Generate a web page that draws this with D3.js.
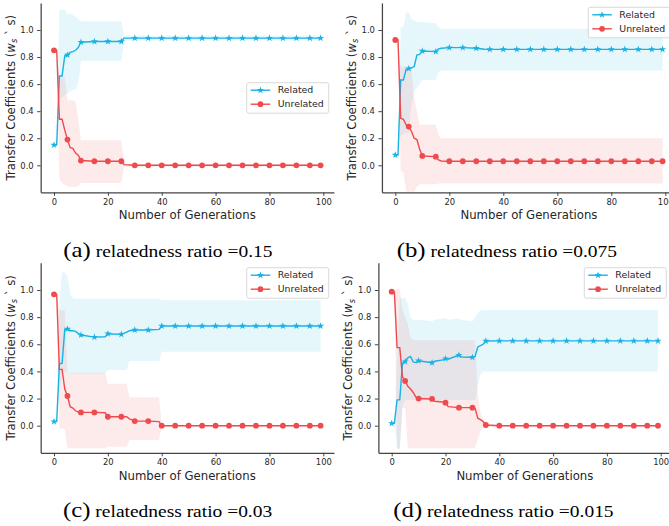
<!DOCTYPE html>
<html><head><meta charset="utf-8">
<script src="https://cdn.jsdelivr.net/npm/d3@7"></script>
<style>body{margin:0;background:#fff}svg{display:block}</style>
</head><body>
<svg id="c" width="669" height="526"></svg>
<script>
// ---------- data ----------
const xTicks = [0, 20, 40, 60, 80, 100];
const yTicks = [0.0, 0.2, 0.4, 0.6, 0.8, 1.0];
const seriesNames = ["Related", "Unrelated"];
const captionLetters = ["(a)", "(b)", "(c)", "(d)"];
const captionTexts = [" relatedness ratio =0.15", " relatedness ratio =0.075", " relatedness ratio =0.03", " relatedness ratio =0.015"];

// (a) relatedness ratio = 0.15
const genA    = [0,1,2,3,4,5,6,7,8,9,10,15,20,25,26,30,35,40,45,50,55,60,65,70,75,80,85,90,95,99];
const relA    = [0.15,0.15,0.66,0.66,0.81,0.815,0.835,0.84,0.85,0.87,0.91,0.915,0.915,0.915,0.94,0.94,0.94,0.94,0.94,0.94,0.94,0.94,0.94,0.94,0.94,0.94,0.94,0.94,0.94,0.94];
const relHiA  = [0.15,0.15,1.15,1.15,1.15,1.12,1.12,1.11,1.10,1.08,1.065,1.065,1.065,1.065,0.96,0.96,0.96,0.96,0.96,0.96,0.96,0.96,0.96,0.96,0.96,0.96,0.96,0.96,0.96,0.96];
const relLoA  = [0.15,0.15,0.50,0.50,0.52,0.53,0.55,0.555,0.56,0.60,0.77,0.77,0.77,0.77,0.925,0.925,0.925,0.925,0.925,0.925,0.925,0.925,0.925,0.925,0.925,0.925,0.925,0.925,0.925,0.925];
const unrA    = [0.85,0.85,0.34,0.34,0.26,0.19,0.13,0.125,0.09,0.075,0.035,0.03,0.03,0.03,0.005,0,0,0,0,0,0,0,0,0,0,0,0,0,0,0];
const unrHiA  = [0.85,0.85,0.65,0.65,0.65,0.48,0.48,0.48,0.47,0.35,0.185,0.185,0.185,0.185,0.01,0.01,0.01,0.01,0.01,0.01,0.01,0.01,0.01,0.01,0.01,0.01,0.01,0.01,0.01,0.01];
const unrLoA  = [0.85,0.85,-0.10,-0.13,-0.145,-0.155,-0.158,-0.158,-0.158,-0.155,-0.13,-0.13,-0.13,-0.13,-0.01,-0.01,-0.01,-0.01,-0.01,-0.01,-0.01,-0.01,-0.01,-0.01,-0.01,-0.01,-0.01,-0.01,-0.01,-0.01];

// (b) relatedness ratio = 0.075
const genB    = [0,1,2,3,4,5,6,7,8,9,10,15,16,17,20,25,30,33,35,40,45,50,55,60,65,70,75,80,85,90,95,99];
const relB    = [0.076,0.076,0.63,0.63,0.71,0.715,0.72,0.73,0.815,0.82,0.845,0.84,0.86,0.865,0.87,0.87,0.865,0.858,0.857,0.857,0.857,0.857,0.857,0.857,0.857,0.857,0.857,0.857,0.857,0.857,0.857,0.857];
const relHiB  = [0.076,0.076,1.02,1.02,1.13,1.13,1.08,1.07,1.06,1.06,1.06,1.05,1.02,1.01,1.01,1.01,1.01,1.01,1.01,1.01,1.01,1.01,1.01,1.01,1.01,1.01,1.01,1.01,1.01,1.01,1.01,1.01];
const relLoB  = [0.076,0.076,0.22,0.23,0.24,0.24,0.45,0.55,0.57,0.60,0.63,0.63,0.69,0.70,0.70,0.70,0.70,0.70,0.70,0.70,0.70,0.70,0.70,0.70,0.70,0.70,0.70,0.70,0.70,0.70,0.70,0.70];
const unrB    = [0.926,0.926,0.347,0.34,0.30,0.286,0.25,0.20,0.19,0.12,0.069,0.064,0.04,0.032,0.03,0.03,0.03,0.03,0.03,0.03,0.03,0.03,0.03,0.03,0.03,0.03,0.03,0.03,0.03,0.03,0.03,0.03];
const unrHiB  = [0.926,0.926,0.73,0.73,0.73,0.73,0.70,0.50,0.40,0.30,0.30,0.30,0.22,0.20,0.20,0.20,0.20,0.20,0.20,0.20,0.20,0.20,0.20,0.20,0.20,0.20,0.20,0.20,0.20,0.20,0.20,0.20];
const unrLoB  = [0.926,0.926,-0.04,-0.05,-0.19,-0.195,-0.195,-0.195,-0.16,-0.14,-0.14,-0.14,-0.135,-0.135,-0.135,-0.135,-0.135,-0.135,-0.135,-0.135,-0.135,-0.135,-0.135,-0.135,-0.135,-0.135,-0.135,-0.135,-0.135,-0.135,-0.135,-0.135];

// (c) relatedness ratio = 0.03
const genC    = [0,1,2,3,4,5,6,7,8,9,10,15,19,20,25,27,28,30,35,39,40,45,50,55,60,65,70,75,80,85,90,95,99];
const relC    = [0.03,0.03,0.455,0.46,0.71,0.713,0.70,0.70,0.695,0.68,0.668,0.653,0.655,0.678,0.673,0.69,0.70,0.705,0.705,0.71,0.735,0.735,0.735,0.735,0.735,0.735,0.735,0.735,0.735,0.735,0.735,0.735,0.735];
const relHiC  = [0.03,0.03,0.90,1.13,1.13,1.10,0.98,0.94,0.935,0.935,0.935,0.935,0.935,0.935,0.935,0.935,0.935,0.935,0.935,0.935,0.925,0.925,0.925,0.925,0.925,0.925,0.925,0.925,0.925,0.925,0.925,0.925,0.925];
const relLoC  = [0.03,0.03,0.20,0.40,0.40,0.39,0.385,0.385,0.385,0.385,0.385,0.385,0.385,0.41,0.41,0.41,0.477,0.477,0.477,0.477,0.545,0.545,0.545,0.545,0.545,0.545,0.545,0.545,0.545,0.545,0.545,0.545,0.545];
const unrC    = [0.968,0.968,0.415,0.415,0.27,0.219,0.14,0.13,0.11,0.10,0.098,0.098,0.095,0.066,0.066,0.066,0.05,0.034,0.034,0.03,0,0,0,0,0,0,0,0,0,0,0,0,0];
const unrHiC  = [0.968,0.968,0.85,0.85,0.85,0.39,0.39,0.39,0.39,0.39,0.39,0.39,0.39,0.31,0.31,0.31,0.21,0.21,0.21,0.21,0.005,0.005,0.005,0.005,0.005,0.005,0.005,0.005,0.005,0.005,0.005,0.005,0.005];
const unrLoC  = [0.968,0.968,-0.02,-0.02,-0.03,-0.167,-0.167,-0.167,-0.167,-0.167,-0.167,-0.167,-0.167,-0.155,-0.155,-0.155,-0.105,-0.105,-0.105,-0.105,-0.005,-0.005,-0.005,-0.005,-0.005,-0.005,-0.005,-0.005,-0.005,-0.005,-0.005,-0.005,-0.005];

// (d) relatedness ratio = 0.015
const genD    = [0,1,2,3,4,5,6,7,8,9,10,15,16,19,20,21,25,26,30,31,32,33,34,35,40,45,50,55,60,65,70,75,80,85,90,95,99];
const relD    = [0.017,0.017,0.19,0.19,0.46,0.472,0.50,0.51,0.47,0.465,0.479,0.464,0.475,0.485,0.494,0.49,0.52,0.505,0.504,0.51,0.58,0.59,0.60,0.624,0.625,0.625,0.625,0.625,0.625,0.625,0.625,0.625,0.625,0.625,0.625,0.625,0.625];
const relHiD  = [0.017,0.017,0.50,0.94,0.94,0.94,0.90,0.80,0.78,0.78,0.78,0.77,0.78,0.79,0.79,0.78,0.79,0.78,0.77,0.80,0.83,0.85,0.85,0.853,0.853,0.853,0.853,0.853,0.853,0.853,0.853,0.853,0.853,0.853,0.853,0.853,0.853];
const relLoD  = [0.017,0.017,-0.17,-0.17,0.15,0.19,0.19,0.19,0.19,0.19,0.19,0.19,0.19,0.19,0.19,0.19,0.19,0.19,0.19,0.19,0.30,0.38,0.40,0.40,0.40,0.40,0.40,0.40,0.40,0.40,0.40,0.40,0.40,0.40,0.40,0.40,0.40];
const unrD    = [0.988,0.985,0.575,0.575,0.36,0.33,0.29,0.27,0.245,0.21,0.20,0.197,0.18,0.175,0.17,0.14,0.133,0.133,0.133,0.128,0.055,0.045,0.03,0.005,0,0,0,0,0,0,0,0,0,0,0,0,0];
const unrHiD  = [0.988,0.99,1.01,1.01,0.85,0.80,0.75,0.65,0.63,0.63,0.63,0.63,0.63,0.63,0.63,0.63,0.63,0.63,0.63,0.63,0.23,0.10,0.04,0.01,0.005,0.005,0.005,0.005,0.005,0.005,0.005,0.005,0.005,0.005,0.005,0.005,0.005];
const unrLoD  = [0.988,0.985,-0.17,-0.17,0.13,0.13,-0.167,-0.167,-0.167,-0.167,-0.167,-0.167,-0.167,-0.167,-0.167,-0.167,-0.167,-0.167,-0.167,-0.167,-0.10,-0.04,-0.01,-0.005,-0.005,-0.005,-0.005,-0.005,-0.005,-0.005,-0.005,-0.005,-0.005,-0.005,-0.005,-0.005,-0.005];

const panelData = [
  {gen: genA, rel: relA, relLo: relLoA, relHi: relHiA, unr: unrA, unrLo: unrLoA, unrHi: unrHiA},
  {gen: genB, rel: relB, relLo: relLoB, relHi: relHiB, unr: unrB, unrLo: unrLoB, unrHi: unrHiB},
  {gen: genC, rel: relC, relLo: relLoC, relHi: relHiC, unr: unrC, unrLo: unrLoC, unrHi: unrHiC},
  {gen: genD, rel: relD, relLo: relLoD, relHi: relHiD, unr: unrD, unrLo: unrLoD, unrHi: unrHiD}
];

// ---------- layout ----------
const layout = [
  {gx0: 54.0,  kx: 2.693, yOne: 30.0,  yZero: 165.3, leg: [246.7, 82.7],  cap: [63.3, 257]},
  {gx0: 395.3, kx: 2.700, yOne: 30.0,  yZero: 165.3, leg: [588.3, 7.3],   cap: [396.7, 257]},
  {gx0: 54.0,  kx: 2.693, yOne: 290.0, yZero: 425.7, leg: [246.7, 267.7], cap: [63.0, 517]},
  {gx0: 391.7, kx: 2.690, yOne: 290.0, yZero: 425.7, leg: [584.3, 267.7], cap: [393.3, 517]}
];
const blue = "#18b2e3", red = "#ee4b4e";
const xDom = [-4.95, 103.95], yDom = [-0.2, 1.2];
const font = "DejaVu Sans";

const svg = d3.select("#c");

panelData.forEach((P, i) => {
  const L = layout[i];
  const ky = L.yZero - L.yOne;
  const x = d3.scaleLinear().domain(xDom).range([L.gx0 + xDom[0]*L.kx, L.gx0 + xDom[1]*L.kx]);
  const y = d3.scaleLinear().domain(yDom).range([L.yZero - yDom[0]*ky, L.yZero - yDom[1]*ky]);
  const g = svg.append("g");
  const pts = P.gen.map((gv, j) => ({g: gv, rel: P.rel[j], relLo: P.relLo[j], relHi: P.relHi[j], unr: P.unr[j], unrLo: P.unrLo[j], unrHi: P.unrHi[j]}));

  // bands
  g.append("path").datum(pts)
    .attr("d", d3.area().x(d => x(d.g)).y0(d => y(d.relLo)).y1(d => y(d.relHi)))
    .attr("fill", blue).attr("fill-opacity", 0.11);
  g.append("path").datum(pts)
    .attr("d", d3.area().x(d => x(d.g)).y0(d => y(d.unrLo)).y1(d => y(d.unrHi)))
    .attr("fill", red).attr("fill-opacity", 0.11);

  // axes
  const ax = g.append("g").attr("transform", `translate(0,${y(yDom[0])})`)
    .call(d3.axisBottom(x).tickValues(xTicks).tickFormat(d3.format("d")).tickSize(3.5).tickSizeOuter(0).tickPadding(3));
  const ay = g.append("g").attr("transform", `translate(${x(xDom[0])},0)`)
    .call(d3.axisLeft(y).tickValues(yTicks).tickFormat(d3.format(".1f")).tickSize(3.5).tickSizeOuter(0).tickPadding(3.5));
  [ax, ay].forEach(a => {
    a.select(".domain").attr("stroke", "#444").attr("stroke-width", 1.25);
    a.selectAll(".tick line").attr("stroke", "#444").attr("stroke-width", 1);
    a.selectAll(".tick text").attr("font-family", font).attr("font-size", 8.4).attr("fill", "#262626");
  });

  // lines
  const lineRel = d3.line().x(d => x(d.g)).y(d => y(d.rel));
  const lineUnr = d3.line().x(d => x(d.g)).y(d => y(d.unr));
  g.append("path").datum(pts).attr("d", lineRel).attr("fill", "none").attr("stroke", blue).attr("stroke-width", 1.4);
  g.append("path").datum(pts).attr("d", lineUnr).attr("fill", "none").attr("stroke", red).attr("stroke-width", 1.4);

  const mk = pts.filter(d => d.g % 5 === 0 || d.g === 99);
  const star = d3.symbol(d3.symbolStar, 16)();
  g.selectAll(".st").data(mk).join("path").attr("class", "st")
    .attr("d", star).attr("transform", d => `translate(${x(d.g)},${y(d.rel)})`).attr("fill", blue);
  g.selectAll(".ci").data(mk).join("circle").attr("class", "ci")
    .attr("cx", d => x(d.g)).attr("cy", d => y(d.unr)).attr("r", 2.9).attr("fill", red);

  // axis labels
  const midX = (x(xDom[0]) + x(xDom[1])) / 2;
  g.append("text").attr("x", midX).attr("y", y(yDom[0]) + 27)
    .attr("text-anchor", "middle").attr("font-family", font).attr("font-size", 11.7).attr("fill", "#262626")
    .text("Number of Generations");
  const midY = (y(yDom[0]) + y(yDom[1])) / 2;
  const yl = g.append("text").attr("transform", `translate(${x(xDom[0]) - 26},${midY}) rotate(-90)`)
    .attr("text-anchor", "middle").attr("font-family", font).attr("font-size", 11.7).attr("fill", "#262626");
  yl.append("tspan").text("Transfer Coefficients (");
  yl.append("tspan").attr("font-style", "italic").text("w");
  yl.append("tspan").attr("font-style", "italic").attr("font-size", 8.2).attr("dy", 2.5).text("s");
  yl.append("tspan").attr("dy", -2.5).text(" ` s)");

  // legend
  const lg = g.append("g").attr("transform", `translate(${L.leg[0]},${L.leg[1]})`);
  lg.append("rect").attr("width", 82).attr("height", 30.5).attr("rx", 2)
    .attr("fill", "#fff").attr("fill-opacity", 0.85).attr("stroke", "#cfcfcf").attr("stroke-width", 0.8);
  seriesNames.forEach((nm, k) => {
    const cy = 7.5 + k * 14;
    const c = k === 0 ? blue : red;
    lg.append("line").attr("x1", 4).attr("x2", 23.5).attr("y1", cy).attr("y2", cy).attr("stroke", c).attr("stroke-width", 1.4);
    if (k === 0) lg.append("path").attr("d", star).attr("transform", `translate(13.75,${cy})`).attr("fill", c);
    else lg.append("circle").attr("cx", 13.75).attr("cy", cy).attr("r", 2.9).attr("fill", c);
    lg.append("text").attr("x", 31).attr("y", cy + 3.3).attr("font-family", font).attr("font-size", 9.4).attr("fill", "#262626").text(nm);
  });

  // caption
  const cap = svg.append("text").attr("transform", `translate(${L.cap[0]},${L.cap[1]}) scale(1.18,1)`)
    .attr("font-family", "'Liberation Serif', 'Times New Roman', serif").attr("fill", "#000");
  cap.append("tspan").attr("font-size", 21).text(captionLetters[i]);
  cap.append("tspan").attr("font-size", 16.5).text(captionTexts[i]);
});
</script>
</body></html>
